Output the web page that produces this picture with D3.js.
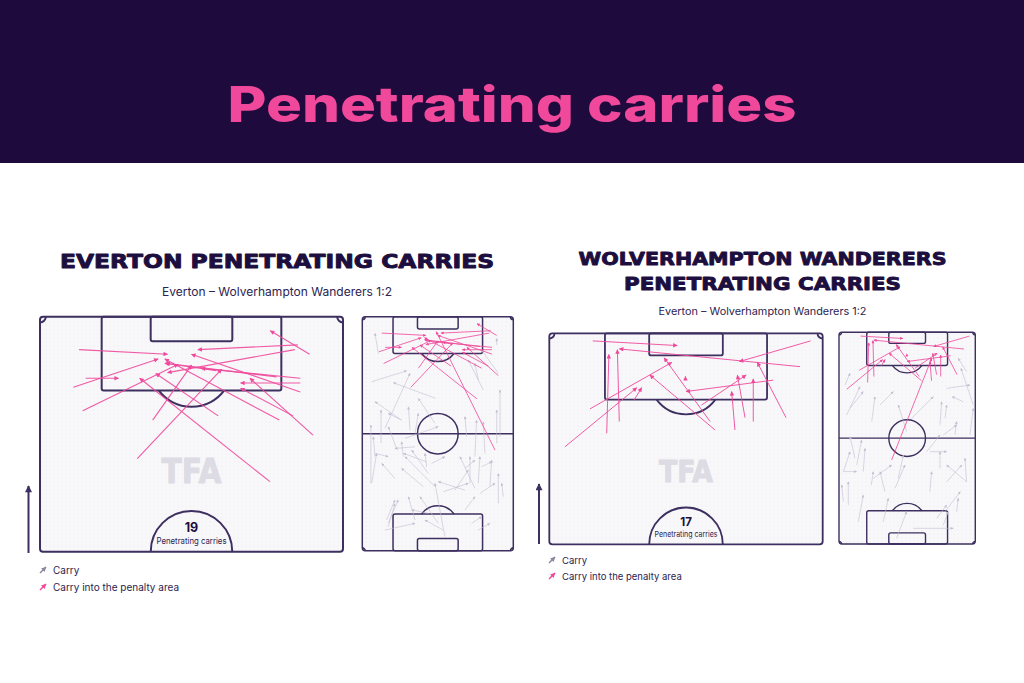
<!DOCTYPE html>
<html><head><meta charset="utf-8">
<script src="https://cdn.jsdelivr.net/npm/d3@7"></script>
<style>html,body{margin:0;padding:0;background:#fff;} svg{display:block}</style>
</head><body><svg id="c" width="1024" height="683"></svg>
<script>
// ---------- DATA ----------
const pageTitle = "Penetrating carries";
const matchLabel = "Everton – Wolverhampton Wanderers 1:2";
const legendLabels = ["Carry", "Carry into the penalty area"];
const countLabel = "Penetrating carries";
const watermark = "TFA";
const evertonTitle = ["EVERTON PENETRATING CARRIES"];
const wolvesTitle = ["WOLVERHAMPTON WANDERERS", "PENETRATING CARRIES"];
const evertonCount = 19;
const wolvesCount = 17;
// carries: [xStart, yStart, xEnd, yEnd] in 0-100 pitch units
// x = along the pitch (attacking upwards), y = across (left -> right)
const evertonPenaltyCarries = [
  [93.0,12.9,92.0,42.1],[92.0,89.0,97.0,76.0],[94.0,85.1,93.0,52.1],[85.0,11.0,91.0,39.0],
  [86.9,15.1,86.9,25.9],[80.0,14.1,89.9,45.6],[78.0,37.2,89.7,50.0],[69.8,32.1,88.8,59.9],
  [64.9,75.9,86.9,32.9],[78.9,58.8,87.9,38.2],[78.0,79.0,91.0,41.2],[78.9,83.5,84.8,66.2],
  [74.8,90.1,86.9,69.3],[85.9,85.9,85.9,66.2],[86.9,85.9,89.0,53.2],[84.0,85.9,92.0,50.0],
  [93.0,84.1,88.1,42.1],[87.2,78.1,90.1,41.5],[88.5,58.2,90.1,41.2]
];
// penalty-area carries starting in own half (shown on the full pitch only)
const evertonLongPenaltyCarries = [[43.0,87.9,93.6,49.0]];
const evertonOtherCarries = [
  [72.2,6.2,76.9,29.4],[84.3,10.6,92.9,8.4],[65.1,48.6,71.8,20.5],[55.8,26.0,63.7,8.4],
  [52.3,15.0,75.8,31.6],[45.9,12.4,60.1,12.4],[28.8,5.7,53.7,5.7],[43.7,22.7,53.0,17.2],
  [44.4,34.9,43.7,21.6],[40.2,27.2,46.6,26.0],[51.6,31.6,61.5,30.5],[54.4,48.1,65.1,37.1],
  [48.0,28.3,53.0,50.3],[48.7,69.1,57.3,68.0],[40.2,74.6,55.8,75.7],[41.6,81.2,55.1,80.1],
  [48.7,91.2,68.7,91.2],[45.9,89.0,60.1,89.0],[68.7,80.1,81.5,70.2],[72.9,76.8,80.1,74.6],
  [75.8,90.1,85.8,79.0],[87.9,89.0,90.7,89.0],[28.8,6.2,41.6,9.5],[41.6,8.4,40.2,17.2],
  [30.9,21.6,37.3,12.8],[27.4,40.4,35.2,26.0],[27.4,48.1,40.2,28.3],[33.0,43.7,43.0,32.7],
  [35.9,42.6,41.6,41.5],[37.3,45.9,40.2,54.7],[25.9,68.0,29.5,50.3],[25.2,53.6,28.8,70.2],
  [25.9,61.4,34.5,70.2],[26.6,74.6,40.2,64.7],[35.2,68.0,38.7,74.6],[28.8,71.3,40.2,71.3],
  [28.8,76.8,40.2,77.9],[35.9,79.0,38.0,85.7],[27.4,84.5,38.7,85.7],[24.5,77.9,28.8,87.9],
  [20.2,90.1,33.0,90.1],[23.1,93.4,28.8,92.3],[17.4,68.0,23.1,74.6],[11.7,72.4,14.5,79.0],
  [8.8,76.8,11.7,84.5],[11.7,17.2,21.7,23.8],[13.1,16.1,21.7,21.6],[8.8,15.0,11.7,34.9],
  [13.1,34.9,23.1,30.5],[11.7,50.3,23.1,38.2],[16.0,43.7,17.4,32.7],[6.0,54.7,28.8,48.1],
  [8.8,53.6,13.1,41.5],[10.3,17.2,20.2,21.6],[40.2,8.4,48.7,7.3],[38.0,42.6,41.6,27.2],
  [55.8,26.0,58.7,17.2],[50.1,34.9,58.7,37.1]
];
const wolvesPenaltyCarries = [
  [98.2,15.9,97.1,46.8],[98.2,95.6,93.3,69.5],[92.1,91.7,96.3,25.6],[76.3,21.0,95.0,21.8],
  [79.1,25.6,96.1,24.9],[82.1,14.9,93.1,44.8],[73.1,5.7,87.1,32.0],[84.2,31.0,87.1,33.8],
  [77.1,60.6,90.1,36.8],[79.1,58.8,94.2,42.0],[83.0,55.7,90.1,72.0],[88.9,81.9,86.2,50.0],
  [77.1,67.9,86.2,66.7],[80.0,71.6,90.1,68.8],[79.1,74.6,89.2,74.6],[80.0,86.6,93.1,76.1],
  [89.5,49.8,89.8,49.8]
];
const wolvesLongPenaltyCarries = [[39.7,38.6,87.7,68.0]];
const wolvesOtherCarries = [
  [75.1,4.4,80.6,8.1],[60.9,5.6,74.3,15.4],[57.8,24.0,69.6,26.4],[65.7,30.1,72.0,39.9],
  [53.1,49.6,65.7,43.5],[59.4,53.3,69.6,69.2],[56.2,74.1,67.2,75.3],[59.4,77.8,65.7,79.0],
  [51.5,85.1,57.8,86.3],[65.7,98.5,83.0,89.5],[73.5,79.0,75.1,96.1],[81.4,93.6,87.7,87.5],
  [67.2,91.2,69.6,83.0],[37.3,13.0,49.1,16.6],[34.2,3.2,43.6,8.1],[34.2,17.8,45.2,19.1],
  [31.0,25.2,37.3,38.6],[43.6,64.3,51.5,74.1],[43.6,66.7,43.6,79.0],[35.7,74.1,43.6,74.1],
  [24.7,66.7,34.2,68.0],[29.4,79.0,37.3,90.1],[29.4,93.6,37.3,79.0],[29.4,93.6,40.5,92.4],
  [34.2,3.2,34.2,12.9],[18.4,6.8,29.4,6.8],[20.0,3.2,27.9,2.0],[10.6,14.2,23.1,17.8],
  [27.9,23.7,34.2,25.2],[24.7,33.7,34.2,30.1],[2.7,42.3,15.3,49.6],[7.4,54.5,7.4,83.9],
  [12.1,71.6,18.4,79.0],[15.3,77.8,24.7,89.0],[15.3,86.3,21.6,87.5],[10.6,32.5,21.6,36.2],
  [26.3,41.1,37.3,48.4],[64.1,8.1,72.0,17.8],[51.5,96.1,64.1,98.5],[51.5,76.5,56.2,86.3],
  [31.0,43.5,42.0,47.2],[40.5,11.7,50.7,8.1],[8.9,76.5,15.3,80.2]
];

// ---------- STYLE ----------
const C = {bg:"#1e0a3c", pink:"#f0489b", ink:"#1c0e3e", line:"#3d2f5f", gray:"#c3bed1", sub:"#2c2350"};
const SANS = "Inter, 'Open Sans', Lato, sans-serif";
const WIDE = "'DejaVu Sans', Verdana, sans-serif";

const svg = d3.select("#c");
const defs = svg.append("defs");
const pat = defs.append("pattern").attr("id","dots").attr("width",4).attr("height",4)
  .attr("patternUnits","userSpaceOnUse");
pat.append("rect").attr("width",4).attr("height",4).attr("fill","#f8f8fa");
pat.append("circle").attr("cx",2).attr("cy",2).attr("r",0.55).attr("fill","#e8e6ed");

function marker(id, color, w, h){
  defs.append("marker").attr("id",id).attr("viewBox","0 0 10 10")
    .attr("refX",9).attr("refY",5).attr("markerWidth",w).attr("markerHeight",h)
    .attr("markerUnits","userSpaceOnUse").attr("orient","auto")
    .append("path").attr("d","M0,0 L10,5 L0,10 z").attr("fill",color);
}
marker("mPinkL", C.pink, 6, 4.5);
marker("mPinkS", C.pink, 4, 3);
marker("mGrayS", C.gray, 3.5, 2.8);
marker("mInk", C.line, 8, 7);
marker("mGrayLeg", "#8c859e", 5, 5);
marker("mPinkLeg", C.pink, 5, 5);

// ---------- HEADER ----------
svg.append("rect").attr("x",0).attr("y",0).attr("width",1024).attr("height",163).attr("fill",C.bg);
svg.append("text").attr("x",512).attr("y",121.5).attr("text-anchor","middle")
  .attr("font-family",SANS).attr("font-weight",800).attr("font-size",49)
  .attr("fill",C.pink).attr("textLength",569).attr("lengthAdjust","spacingAndGlyphs")
  .text(pageTitle);

// ---------- PITCH ----------
function drawPitch(g, box, full, lw){
  const L = full ? 0 : 52.5;
  const x = d3.scaleLinear().domain([0,68]).range([box.l, box.r]);
  const y = d3.scaleLinear().domain([L,105]).range([box.b, box.t]);
  const k = x(1)-x(0);
  g.append("rect").attr("x",x(0)).attr("y",y(105)).attr("width",x(68)-x(0))
    .attr("height",y(L)-y(105)).attr("rx",3).attr("fill","url(#dots)");
  const m = g.append("g").attr("fill","none").attr("stroke",C.line).attr("stroke-width",lw);
  const boxes = (goalY, dir) => {
    const pY = goalY - dir*16.5, sY = goalY - dir*5.5;
    m.append("rect").attr("x",x(34-20.16)).attr("width",x(34+20.16)-x(34-20.16))
      .attr("y",Math.min(y(goalY),y(pY))).attr("height",Math.abs(y(pY)-y(goalY))).attr("rx",2);
    m.append("rect").attr("x",x(34-9.16)).attr("width",x(34+9.16)-x(34-9.16))
      .attr("y",Math.min(y(goalY),y(sY))).attr("height",Math.abs(y(sY)-y(goalY))).attr("rx",2);
    const dx = Math.sqrt(9.15*9.15-5.5*5.5);
    m.append("path").attr("d",`M${x(34-dx)},${y(pY)} A${9.15*k},${9.15*k} 0 0 ${dir>0?0:1} ${x(34+dx)},${y(pY)}`);
  };
  boxes(105, 1);
  const r = 1.3*k;
  m.append("path").attr("d",`M${x(0)+r},${y(105)} A${r},${r} 0 0 1 ${x(0)},${y(105)+r}`);
  m.append("path").attr("d",`M${x(68)-r},${y(105)} A${r},${r} 0 0 0 ${x(68)},${y(105)+r}`);
  if(full){
    boxes(0, -1);
    m.append("line").attr("x1",x(0)).attr("x2",x(68)).attr("y1",y(52.5)).attr("y2",y(52.5));
    m.append("circle").attr("cx",x(34)).attr("cy",y(52.5)).attr("r",9.15*k);
    m.append("path").attr("d",`M${x(0)},${y(0)-r} A${r},${r} 0 0 1 ${x(0)+r},${y(0)}`);
    m.append("path").attr("d",`M${x(68)},${y(0)-r} A${r},${r} 0 0 0 ${x(68)-r},${y(0)}`);
  } else {
    m.append("path").attr("d",`M${x(34-9.15)},${y(52.5)} A${9.15*k},${9.15*k} 0 0 1 ${x(34+9.15)},${y(52.5)}`);
  }
  m.append("rect").attr("x",x(0)).attr("y",y(105)).attr("width",x(68)-x(0))
    .attr("height",y(L)-y(105)).attr("rx",3);
  return {x, y, k};
}

function drawCarries(g, sc, data, color, mk, w, op){
  g.append("g").selectAll("line").data(data).join("line")
    .attr("x1",d=>sc.x(d[1]*0.68)).attr("y1",d=>sc.y(d[0]*1.05))
    .attr("x2",d=>sc.x(d[3]*0.68)).attr("y2",d=>sc.y(d[2]*1.05))
    .attr("stroke",color).attr("stroke-width",w).attr("stroke-opacity",op)
    .attr("marker-end",`url(#${mk})`);
}

function panel(cfg){
  const g = svg.append("g");
  cfg.title.forEach((t,i)=>{
    g.append("text").attr("x",cfg.cx).attr("y",cfg.titleY[i]).attr("text-anchor","middle")
      .attr("font-family",WIDE).attr("font-weight",700).attr("font-size",cfg.titleSize)
      .attr("fill",C.ink).attr("stroke",C.ink).attr("stroke-width",0.9).attr("stroke-linejoin","round")
      .attr("textLength",cfg.titleW[i]).attr("lengthAdjust","spacingAndGlyphs")
      .text(t);
  });
  g.append("text").attr("x",cfg.cx).attr("y",cfg.subY).attr("text-anchor","middle")
    .attr("font-family",SANS).attr("font-size",cfg.subSize).attr("fill",C.sub)
    .attr("textLength",cfg.subW).attr("lengthAdjust","spacingAndGlyphs").text(matchLabel);

  const hs = drawPitch(g, cfg.half, false, cfg.lwHalf);
  const hx = hs.x;
  g.append("text").attr("x",hx(34)).attr("y",cfg.wmY).attr("text-anchor","middle")
    .attr("font-family",WIDE).attr("font-weight",700).attr("font-size",cfg.wmSize)
    .attr("fill","#dddbe3").attr("stroke","#dddbe3").attr("stroke-width",1)
    .attr("textLength",cfg.wmW).attr("lengthAdjust","spacingAndGlyphs")
    .text(watermark);
  drawCarries(g, hs, cfg.pen, C.pink, "mPinkL", cfg.pinkW, 0.9);
  g.append("text").attr("x",hx(34)).attr("y",cfg.countY).attr("text-anchor","middle")
    .attr("font-family",SANS).attr("font-weight",700).attr("font-size",cfg.countSize).attr("fill",C.ink)
    .text(cfg.count);
  g.append("text").attr("x",hx(34)).attr("y",cfg.countY+cfg.countGap).attr("text-anchor","middle")
    .attr("font-family",SANS).attr("font-size",cfg.countSmall).attr("fill",C.sub)
    .attr("textLength",cfg.countW).attr("lengthAdjust","spacingAndGlyphs").text(countLabel);

  const fs = drawPitch(g, cfg.full, true, cfg.lwFull);
  drawCarries(g, fs, cfg.other, C.gray, "mGrayS", 0.8, 0.75);
  drawCarries(g, fs, cfg.pen.concat(cfg.longPen), C.pink, "mPinkS", 0.9, 0.9);

  g.append("line").attr("x1",cfg.arrowX).attr("x2",cfg.arrowX).attr("y1",cfg.arrowY[0]).attr("y2",cfg.arrowY[1])
    .attr("stroke",C.line).attr("stroke-width",2).attr("marker-end","url(#mInk)");

  const leg = [["mGrayLeg","#8c859e"],["mPinkLeg",C.pink]];
  legendLabels.forEach((lab,i)=>{
    const yy = cfg.legY[i];
    g.append("line").attr("x1",cfg.legX).attr("y1",yy+3).attr("x2",cfg.legX+6).attr("y2",yy-3)
      .attr("stroke",leg[i][1]).attr("stroke-width",1.5).attr("marker-end",`url(#${leg[i][0]})`);
    g.append("text").attr("x",cfg.legX+13).attr("y",yy+3.5).attr("font-family",SANS)
      .attr("font-size",cfg.legSize).attr("fill",C.sub).text(lab);
  });
}

panel({
  title: evertonTitle, titleY:[267.5], titleW:[434], titleSize:19, cx:277,
  subY:296, subW:230, subSize:11.5,
  half:{l:40, r:343, t:316.7, b:551.7}, full:{l:362.3, r:513.3, t:316.7, b:550.7},
  lwHalf:2, lwFull:1.5, pinkW:1.1,
  wmY:483, wmSize:34, wmW:60,
  count:evertonCount, countY:532, countSize:12.5, countGap:12, countSmall:8.6, countW:70,
  pen:evertonPenaltyCarries, longPen:evertonLongPenaltyCarries, other:evertonOtherCarries,
  arrowX:28.5, arrowY:[553,486],
  legX:40, legY:[570,587], legSize:10
});
panel({
  title: wolvesTitle, titleY:[264.5,290], titleW:[368,277], titleSize:18, cx:762.5,
  subY:315, subW:208, subSize:10.5,
  half:{l:549.3, r:822.7, t:333.3, b:544.3}, full:{l:839, r:975.3, t:332.3, b:544},
  lwHalf:1.8, lwFull:1.4, pinkW:1.0,
  wmY:482, wmSize:31, wmW:54,
  count:wolvesCount, countY:525.5, countSize:11.5, countGap:11, countSmall:7.8, countW:63,
  pen:wolvesPenaltyCarries, longPen:wolvesLongPenaltyCarries, other:wolvesOtherCarries,
  arrowX:539, arrowY:[544,484],
  legX:549, legY:[560,576], legSize:9.5
});
</script>
</body></html>
